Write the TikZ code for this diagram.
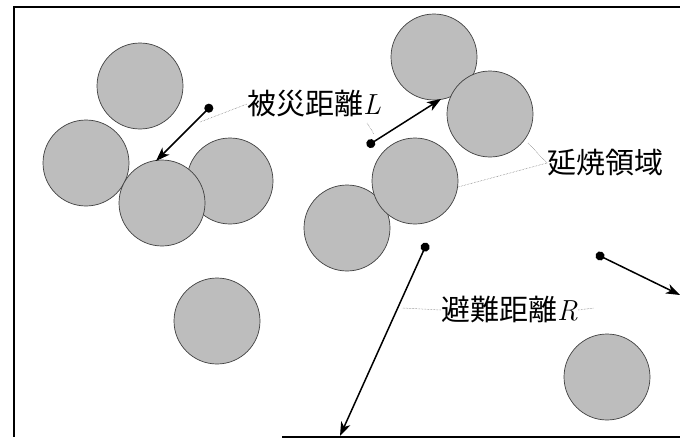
\documentclass[tikz,border=0pt]{standalone}
\usepackage{fontspec}
\newfontfamily\jp{Noto Sans CJK JP}
\newcommand{\ivar}[1]{{\rmfamily\itshape #1}}
\usetikzlibrary{arrows.meta}
\tikzset{
  blob/.style={circle, minimum size=86pt, inner sep=0pt, fill=black!26, draw=black!75, line width=0.7pt},
  dist/.style={line width=1.5pt, {Circle[length=9pt]}-{Stealth[length=14pt,width=10pt,inset=4pt]}},
  lead/.style={densely dotted, line width=0.5pt, black!60},
  lbl/.style={anchor=west, inner sep=0pt, font=\jp\fontsize{29}{32}\selectfont},
  frame/.style={line width=1.6pt}
}
\begin{document}
\begin{tikzpicture}[x=1pt,y=-1pt]
\useasboundingbox (0,0) rectangle (680,439);
% frame
\coordinate (f1) at (682,7);
\coordinate (f2) at (14,7);
\coordinate (f3) at (14,437);
\coordinate (f4) at (282,437);
\coordinate (f5) at (682,437);
\draw[frame] (f1) -- (f2) -- (f3);
\draw[frame] (f4) -- (f5);
% circles, left group
\node[blob] (c1) at (140,86) {};
\node[blob] (c2) at (86,163) {};
\node[blob] (c4) at (230,181) {};
\node[blob] (c3) at (162,203) {};
\node[blob] (c5) at (217,321) {};
% right group
\node[blob] (c6) at (434,57) {};
\node[blob] (c7) at (490,114) {};
\node[blob] (c9) at (347,228) {};
\node[blob] (c8) at (415,181) {};
\node[blob] (c10) at (607,377) {};
% arrows
\coordinate (a1s) at (212,105);
\coordinate (a1e) at (156,161);
\coordinate (a2s) at (367,146);
\coordinate (a2e) at (441,99);
\coordinate (a3s) at (427,243);
\coordinate (a3e) at (340,436);
\coordinate (a4s) at (596,254);
\coordinate (a4e) at (680,295);
\draw[dist] (a1s) -- (a1e);
\draw[dist] (a2s) -- (a2e);
\draw[dist] (a3s) -- (a3e);
\draw[dist] (a4s) -- (a4e);
% labels
\node[lbl] (lL) at (247,104) {被災距離\ivar{L}};
\node[lbl] (lE) at (547,163) {延焼領域};
\node[lbl] (lR) at (441,310) {避難距離\ivar{R}};
% leaders
\coordinate (p1) at (200,122);
\coordinate (p2) at (367,123);
\coordinate (p3) at (374,134);
\coordinate (p4) at (528,143);
\coordinate (p5) at (458,187);
\coordinate (p6) at (403,308);
\coordinate (p7) at (594,308);
\draw[lead] (p1) -- (lL.west);
\draw[lead] (p2) -- (p3);
\draw[lead] (lE.west) -- (p4);
\draw[lead] (lE.west) -- (p5);
\draw[lead] (p6) -- (lR.west);
\draw[lead] (lR.east) -- (p7);
\end{tikzpicture}
\end{document}
